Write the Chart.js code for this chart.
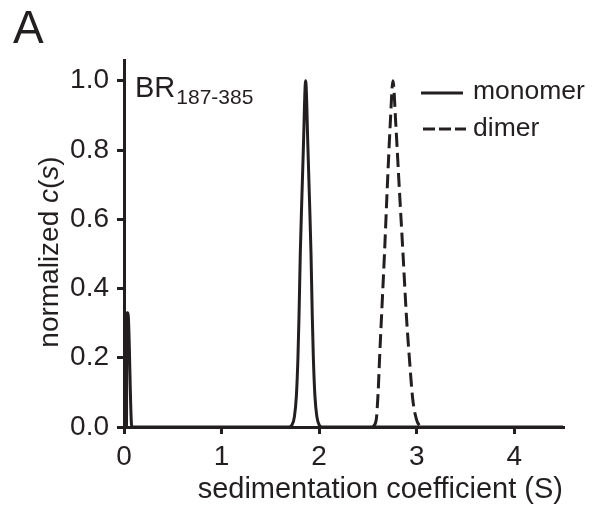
<!DOCTYPE html>
<html>
<head>
<meta charset="utf-8">
<script src="https://cdn.jsdelivr.net/npm/chart.js@4/dist/chart.umd.min.js"></script>
<style>
  html, body { margin: 0; padding: 0; background: #fff; }
  #wrap { width: 602px; height: 510px; position: relative; }
</style>
</head>
<body>
<div id="wrap"><canvas id="sedChart" width="602" height="510"></canvas></div>
<script>
// values
const monomerS = [0, 0.025, 0.03, 0.04, 0.08, 1.69, 1.72, 1.747, 1.767, 1.783, 1.794, 1.807, 1.822, 1.838, 1.862, 1.886, 1.902, 1.917, 1.930, 1.941, 1.957, 1.977, 2.002, 2.03, 4.5];
const monomerC = [0, 0, 0.33, 0.33, 0, 0, 0.005, 0.03, 0.09, 0.2, 0.32, 0.5, 0.65, 0.8, 1.0, 0.8, 0.65, 0.5, 0.32, 0.2, 0.09, 0.03, 0.005, 0, 0];

const dimerS = [2.55, 2.585, 2.605, 2.62, 2.645, 2.67, 2.70, 2.73, 2.757, 2.785, 2.82, 2.86, 2.895, 2.925, 2.96, 3.00, 3.04];
const dimerC = [0, 0.02, 0.1, 0.2, 0.35, 0.5, 0.7, 0.88, 1.0, 0.88, 0.7, 0.5, 0.32, 0.2, 0.08, 0.02, 0];

const seriesNames = ['monomer', 'dimer'];
const xTicks = [0, 1, 2, 3, 4];
const yTicks = [0, 0.2, 0.4, 0.6, 0.8, 1.0];

const ink = '#231f20';
const font = '"Liberation Sans", Arial, sans-serif';

const toPoints = (xs, ys) => xs.map((x, i) => ({ x: x, y: ys[i] }));

// extra text: panel letter, sample name, legend, y title with italics
const annotations = {
  id: 'annotations',
  afterDraw(chart) {
    const ctx = chart.ctx;
    ctx.save();
    ctx.fillStyle = ink;
    ctx.strokeStyle = ink;
    ctx.textBaseline = 'alphabetic';

    ctx.font = '46px ' + font;
    ctx.fillText('A', 13, 43);

    ctx.font = '29px ' + font;
    ctx.fillText('BR', 135, 97);
    const brW = ctx.measureText('BR').width;
    ctx.font = '21px ' + font;
    ctx.fillText('187-385', 135 + brW + 1, 104);

    // legend
    ctx.lineWidth = 3;
    ctx.beginPath();
    ctx.moveTo(421, 93); ctx.lineTo(463, 93);
    ctx.stroke();
    ctx.setLineDash([12, 4]);
    ctx.beginPath();
    ctx.moveTo(423, 129); ctx.lineTo(466, 129);
    ctx.stroke();
    ctx.setLineDash([]);
    ctx.font = '26.5px ' + font;
    ctx.fillText(seriesNames[0], 473, 99);
    ctx.fillText(seriesNames[1], 473, 136);

    // y axis title
    const parts = [['normalized ', ''], ['c', 'italic '], ['(', ''], ['s', 'italic '], [')', '']];
    let total = 0;
    parts.forEach(p => { ctx.font = p[1] + '28px ' + font; total += ctx.measureText(p[0]).width; });
    ctx.translate(58, 252 + total / 2);
    ctx.rotate(-Math.PI / 2);
    let x = 0;
    parts.forEach(p => {
      ctx.font = p[1] + '28px ' + font;
      ctx.fillText(p[0], x, 0);
      x += ctx.measureText(p[0]).width;
    });
    ctx.restore();
  }
};

new Chart(document.getElementById('sedChart'), {
  type: 'scatter',
  data: {
    datasets: [
      {
        label: seriesNames[0],
        data: toPoints(monomerS, monomerC),
        showLine: true,
        borderColor: ink,
        borderWidth: 3,
        pointRadius: 0,
        cubicInterpolationMode: 'monotone'
      },
      {
        label: seriesNames[1],
        data: toPoints(dimerS, dimerC),
        showLine: true,
        borderColor: ink,
        borderWidth: 3,
        borderDash: [14, 6],
        pointRadius: 0,
        cubicInterpolationMode: 'monotone'
      }
    ]
  },
  options: {
    responsive: false,
    animation: false,
    layout: { padding: { top: 60, right: 39, left: 0, bottom: 0 } },
    plugins: { legend: { display: false }, tooltip: { enabled: false } },
    scales: {
      x: {
        type: 'linear',
        min: 0,
        max: 4.5,
        afterFit: s => { s.height = 83; },
        afterBuildTicks: s => { s.ticks = xTicks.map(v => ({ value: v })); },
        border: { display: true, color: ink, width: 3 },
        grid: { drawOnChartArea: false, drawTicks: true, tickLength: 7, color: ink, lineWidth: 3 },
        ticks: {
          color: ink,
          font: { family: font, size: 28 },
          padding: 6,
          maxRotation: 0,
          callback: v => String(v)
        },
        title: {
          display: true,
          align: 'end',
          text: 'sedimentation coefficient (S)',
          color: ink,
          font: { family: font, size: 29 },
          padding: { top: 0, bottom: 3 }
        }
      },
      y: {
        type: 'linear',
        min: 0,
        max: 1.06,
        afterFit: s => { s.width = 124; },
        afterBuildTicks: s => { s.ticks = yTicks.map(v => ({ value: v })); },
        border: { display: true, color: ink, width: 3 },
        grid: { drawOnChartArea: false, drawTicks: true, tickLength: 7, color: ink, lineWidth: 3 },
        ticks: {
          color: ink,
          font: { family: font, size: 28 },
          padding: 8,
          callback: v => v.toFixed(1)
        }
      }
    }
  },
  plugins: [annotations]
});
</script>
</body>
</html>
